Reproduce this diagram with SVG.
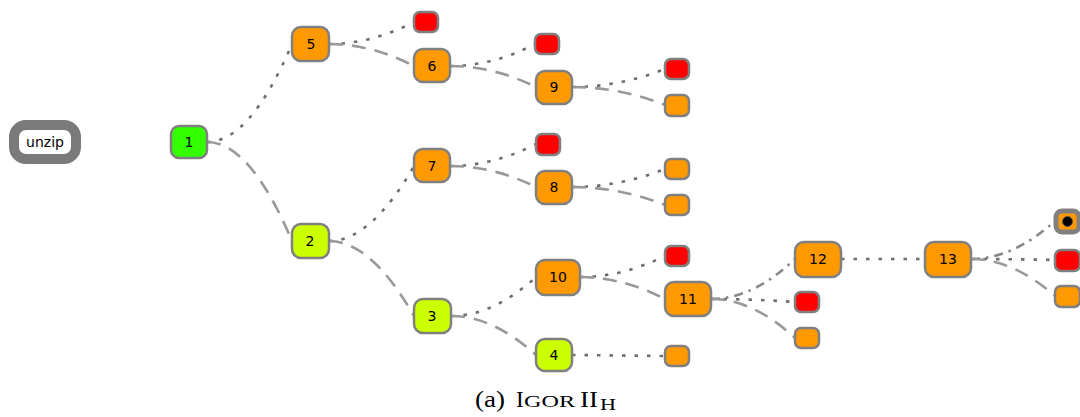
<svg xmlns="http://www.w3.org/2000/svg" width="1080" height="417" viewBox="0 0 1080 417">
<style>
.n rect{stroke:#808080;stroke-width:2.5}
.o{fill:#ff9900}
.r{fill:#ff0000}
.g{fill:#33ff00}
.y{fill:#ccff00}
.t{font-family:"DejaVu Sans",sans-serif;font-size:14px;fill:#000;text-anchor:middle;dominant-baseline:central}
.e path{fill:none;stroke-width:2.6}
.dot{stroke:#6e6e6e;stroke-dasharray:3.5 9}
.dash{stroke:#999;stroke-dasharray:14 9}
.dd{stroke:#888;stroke-dasharray:9 6 2.5 6}
.cap{font-family:"Liberation Serif","DejaVu Serif",serif;fill:#000}
</style>
<rect width="1080" height="417" fill="#fff"/>
<g class="e" id="edges">
<path class="dot" d="M207,142 Q250,142 292,44"/>
<path class="dash" d="M207,142 Q250,142 292,241"/>
<path class="dot" d="M329,44 Q371,44 414,22"/>
<path class="dash" d="M329,44 Q371,44 414,66"/>
<path class="dot" d="M450,66 Q493,66 535,44"/>
<path class="dash" d="M450,66 Q493,66 536,87"/>
<path class="dot" d="M572,87 Q619,87 665,69"/>
<path class="dash" d="M572,87 Q619,87 665,105"/>
<path class="dot" d="M329,241 Q371,241 414,166"/>
<path class="dash" d="M329,241 Q371,241 414,316"/>
<path class="dot" d="M450,166 Q493,166 536,144"/>
<path class="dash" d="M450,166 Q493,166 536,187"/>
<path class="dot" d="M572,187 Q619,187 665,169"/>
<path class="dash" d="M572,187 Q619,187 665,205"/>
<path class="dot" d="M451,316 Q493,316 536,277"/>
<path class="dash" d="M451,316 Q493,316 536,355"/>
<path class="dot" d="M580,277 Q622,277 665,256"/>
<path class="dash" d="M580,277 Q622,277 665,299"/>
<path class="dot" d="M572,355 L665,356"/>
<path class="dd" d="M711,299 Q753,299 795,259"/>
<path class="dot" d="M711,299 Q753,299 795,302"/>
<path class="dash" d="M711,299 Q753,299 795,338"/>
<path class="dot" d="M841,259 L925,259"/>
<path class="dd" d="M971,259 Q1013,259 1055,221"/>
<path class="dot" d="M971,259 Q1013,259 1055,260"/>
<path class="dash" d="M971,259 Q1013,259 1055,296"/>
</g>
<g id="unzip"><rect x="14" y="125" width="62" height="34" rx="12" fill="#fff" stroke="#7a7a7a" stroke-width="10"/><text class="t" x="45" y="142">unzip</text></g>
<g class="n" id="n1"><rect class="g" x="171" y="126" width="36" height="32" rx="8"/><text class="t" x="189" y="142">1</text></g>
<g class="n" id="n5"><rect class="o" x="292" y="27" width="37" height="34" rx="9"/><text class="t" x="311" y="44">5</text></g>
<g class="n" id="n2"><rect class="y" x="292" y="224" width="37" height="34" rx="9"/><text class="t" x="310" y="241">2</text></g>
<g class="n" id="n6"><rect class="o" x="414" y="49" width="36" height="33" rx="9"/><text class="t" x="432" y="66">6</text></g>
<g class="n" id="n7"><rect class="o" x="414" y="149" width="36" height="33" rx="9"/><text class="t" x="432" y="166">7</text></g>
<g class="n" id="n3"><rect class="y" x="414" y="299" width="37" height="34" rx="9"/><text class="t" x="432" y="316">3</text></g>
<g class="n" id="n9"><rect class="o" x="536" y="71" width="36" height="33" rx="9"/><text class="t" x="554" y="87">9</text></g>
<g class="n" id="n8"><rect class="o" x="536" y="171" width="36" height="33" rx="9"/><text class="t" x="554" y="187">8</text></g>
<g class="n" id="n10"><rect class="o" x="536" y="260" width="44" height="35" rx="9"/><text class="t" x="558" y="277">10</text></g>
<g class="n" id="n4"><rect class="y" x="536" y="339" width="36" height="32" rx="9"/><text class="t" x="554" y="355">4</text></g>
<g class="n" id="n11"><rect class="o" x="665" y="282" width="46" height="34" rx="9"/><text class="t" x="688" y="299">11</text></g>
<g class="n" id="n12"><rect class="o" x="795" y="242" width="46" height="35" rx="9"/><text class="t" x="818" y="259">12</text></g>
<g class="n" id="n13"><rect class="o" x="925" y="242" width="46" height="35" rx="9"/><text class="t" x="948" y="259">13</text></g>
<g class="n" id="l1"><rect class="r" x="414" y="12" width="24" height="20" rx="6"/></g>
<g class="n" id="l2"><rect class="r" x="535" y="34" width="24" height="20" rx="6"/></g>
<g class="n" id="l3"><rect class="r" x="665" y="59" width="24" height="20" rx="6"/></g>
<g class="n" id="l4"><rect class="o" x="665" y="95" width="24" height="21" rx="6"/></g>
<g class="n" id="l5"><rect class="r" x="536" y="134" width="24" height="21" rx="6"/></g>
<g class="n" id="l6"><rect class="o" x="665" y="159" width="24" height="20" rx="6"/></g>
<g class="n" id="l7"><rect class="o" x="665" y="195" width="24" height="20" rx="6"/></g>
<g class="n" id="l8"><rect class="r" x="665" y="246" width="24" height="20" rx="6"/></g>
<g class="n" id="l9"><rect class="o" x="665" y="346" width="24" height="20" rx="6"/></g>
<g class="n" id="l10"><rect class="r" x="795" y="292" width="24" height="20" rx="6"/></g>
<g class="n" id="l11"><rect class="o" x="795" y="328" width="24" height="20" rx="6"/></g>
<g class="n" id="l12"><rect class="o" x="1056" y="211" width="23" height="21" rx="6" style="stroke-width:5"/><circle cx="1067.5" cy="221.5" r="5" fill="#000" stroke="#555" stroke-width="1"/></g>
<g class="n" id="l13"><rect class="r" x="1055" y="250" width="25" height="21" rx="6"/></g>
<g class="n" id="l14"><rect class="o" x="1055" y="286" width="25" height="21" rx="6"/></g>
<g id="caption" class="cap"><text x="475" y="407" font-size="24" textLength="30" lengthAdjust="spacingAndGlyphs">(a)</text><text x="516" y="407" font-size="23">I</text><text x="524" y="407" font-size="17" textLength="51" lengthAdjust="spacingAndGlyphs">GOR</text><text x="580" y="407" font-size="23" textLength="18" lengthAdjust="spacingAndGlyphs">II</text><text x="600" y="410" font-size="16" textLength="16" lengthAdjust="spacingAndGlyphs">H</text></g>
</svg>
